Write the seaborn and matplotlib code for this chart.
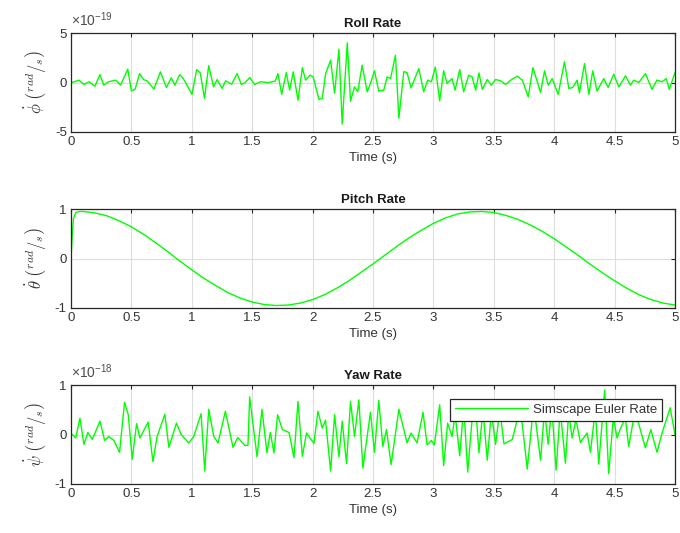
import matplotlib
matplotlib.use("Agg")
import matplotlib.pyplot as plt
import seaborn as sns
import pandas as pd

# ---------------- data ----------------
roll_t = [0.0, 0.01, 0.066, 0.107, 0.15, 0.198, 0.24, 0.27, 0.31, 0.37, 0.41, 0.47, 0.50, 0.53,
          0.568, 0.60, 0.63, 0.686, 0.74, 0.79, 0.83, 0.86, 0.90, 0.93, 1.002, 1.04, 1.07, 1.105,
          1.14, 1.18, 1.21, 1.25, 1.28, 1.33, 1.375, 1.41, 1.44, 1.48, 1.52, 1.57, 1.63, 1.69,
          1.713, 1.744, 1.782, 1.81, 1.84, 1.879, 1.915, 1.942, 1.978, 2.005, 2.052, 2.08, 2.108,
          2.149, 2.182, 2.218, 2.245, 2.287, 2.314, 2.347, 2.374, 2.41, 2.452, 2.479, 2.512, 2.548,
          2.589, 2.617, 2.645, 2.686, 2.714, 2.755, 2.782, 2.815, 2.879, 2.92, 2.953, 2.983, 3.016,
          3.052, 3.085, 3.113, 3.154, 3.18, 3.218, 3.251, 3.292, 3.32, 3.35, 3.377, 3.405, 3.446,
          3.479, 3.515, 3.556, 3.598, 3.64, 3.694, 3.736, 3.785, 3.824, 3.887, 3.92, 3.95, 3.983,
          4.033, 4.085, 4.121, 4.154, 4.19, 4.209, 4.251, 4.287, 4.319, 4.355, 4.41, 4.446, 4.493,
          4.535, 4.59, 4.631, 4.658, 4.70, 4.755, 4.81, 4.85, 4.893, 4.928, 4.953, 5.0]
roll_v = [0, 0, 0.24, -0.2, 0.07, -0.37, 0.8, -0.27, 0.07, 0.24, -0.27, 1.35, -0.85, -0.7,
          0.9, 0.3, 0.17, -0.67, 1.08, -0.5, 0.47, -0.27, 0.8, 0.4, -1.2, 1.3, 0.97, -1.6,
          1.7, -0.44, 0.3, -0.6, 0.17, -0.17, 0.9, -0.2, -0.03, 0.5, -0.2, 0.07, 0, 0.13,
          0.9, -1.2, 1.0, -0.77, 1.08, -1.8, 1.5, 0.24, 0.74, 0.57, -1.7, -1.6, 0.9,
          2.25, -1.1, 3.37, -4.2, 4.0, -1.9, -0.44, -0.94, 1.75, -0.94, -0.1, 1.18, -0.87,
          -0.77, 0.57, 0.4, 2.76, -3.6, 1.1, 1.0, -0.54, 1.4, -0.94, 0.24, 0.07, 1.55,
          -1.85, 1.18, -0.1, 0.4, -0.77, 1.3, -0.94, 0.74, 0.57, -0.77, 0.97, -0.7, 0.3,
          -0.27, 0.3, 0.17, -0.2, 0.24, 0.64, 0.24, -1.45, 1.5, -1.0, 1.18, -0.27, 0.4,
          -1.2, 2.09, -0.6, -0.5, 0.24, -1.04, 1.92, -1.2, 1.18, -0.87, 0.4, -0.5, 0.84,
          -0.44, 0.67, -0.27, 0.24, 0, 0.9, -0.7, 0.24, 0.07, 0.4, -0.7, 1.0]
roll_scale = 1e-19

pitch_t = [0.0, 0.01, 0.02, 0.04, 0.07, 0.1, 0.2, 0.3, 0.4, 0.5, 0.6, 0.7, 0.8, 0.9, 1.0,
           1.1, 1.2, 1.3, 1.4, 1.5, 1.6, 1.7, 1.8, 1.9, 2.0, 2.1, 2.2, 2.3, 2.4, 2.5, 2.6,
           2.7, 2.8, 2.9, 3.0, 3.1, 3.2, 3.3, 3.4, 3.5, 3.6, 3.7, 3.8, 3.9, 4.0, 4.1, 4.2,
           4.3, 4.4, 4.5, 4.6, 4.7, 4.8, 4.9, 5.0]
pitch_v = [0.0, 0.45, 0.8, 0.93, 0.95, 0.95, 0.92, 0.86, 0.76, 0.64, 0.49, 0.32, 0.14, -0.05, -0.23,
           -0.40, -0.55, -0.69, -0.80, -0.88, -0.93, -0.95, -0.94, -0.90, -0.83, -0.73, -0.60, -0.45, -0.28, -0.11, 0.07,
           0.25, 0.42, 0.57, 0.71, 0.82, 0.90, 0.94, 0.95, 0.93, 0.87, 0.79, 0.68, 0.55, 0.40, 0.23, 0.06,
           -0.12, -0.29, -0.45, -0.60, -0.73, -0.83, -0.90, -0.94]

yaw_t = [0.0, 0.011, 0.039, 0.074, 0.107, 0.14, 0.176, 0.24, 0.278, 0.314, 0.355, 0.402, 0.443, 0.474,
         0.507, 0.543, 0.57, 0.639, 0.678, 0.713, 0.777, 0.81, 0.873, 0.912, 0.975, 1.016, 1.077, 1.107,
         1.14, 1.182, 1.217, 1.278, 1.341, 1.38, 1.438, 1.465, 1.479, 1.54, 1.581, 1.622, 1.65, 1.68,
         1.71, 1.75, 1.805, 1.846, 1.879, 1.915, 1.95, 2.011, 2.044, 2.08, 2.107, 2.149, 2.182, 2.218,
         2.245, 2.281, 2.314, 2.347, 2.383, 2.416, 2.479, 2.512, 2.548, 2.581, 2.612, 2.65, 2.714, 2.782,
         2.815, 2.865, 2.914, 2.948, 2.983, 3.008, 3.052, 3.085, 3.118, 3.154, 3.18, 3.218, 3.251, 3.284,
         3.32, 3.35, 3.377, 3.41, 3.446, 3.48, 3.515, 3.55, 3.584, 3.653, 3.72, 3.777, 3.83, 3.887,
         3.92, 3.95, 3.98, 4.016, 4.05, 4.093, 4.12, 4.148, 4.18, 4.217, 4.273, 4.30, 4.34, 4.369,
         4.418, 4.451, 4.49, 4.52, 4.55, 4.589, 4.617, 4.658, 4.69, 4.755, 4.80, 4.851, 4.893, 4.96, 5.0]
yaw_v = [0, 0, -0.07, 0.33, -0.2, 0.04, -0.1, 0.27, -0.12, -0.04, -0.12, -0.36, 0.65, 0.4,
         -0.5, 0.22, -0.07, 0.25, -0.55, -0.04, 0.41, -0.26, 0.23, 0, -0.17, -0.04, 0.42, -0.74,
         0.51, -0.04, -0.17, 0.47, -0.26, -0.06, -0.22, -0.22, 0.76, -0.45, 0.51, -0.37, 0.04, -0.37,
         0.4, 0.1, 0.04, -0.47, 0.67, -0.44, 0.03, -0.18, 0.47, 0.13, 0.29, -0.74, 0.4, -0.45,
         0.27, -0.59, 0.67, -0.04, 0.7, -0.68, 0.45, -0.36, 0.69, -0.24, 0.1, -0.61, 0.51, -0.17,
         0.03, -0.17, 0.45, -0.21, -0.12, -0.21, 0.6, -0.63, 0.23, -0.04, 0.4, -0.43, 0.57, -0.76,
         0.3, 0.55, -0.37, 0.5, -0.52, 0.45, -0.2, 0.5, -0.19, -0.1, 0.55, -0.7, 0.6, -0.52,
         0.5, -0.2, 0.55, -0.72, 0.5, -0.58, 0.45, -0.07, 0.3, -0.16, 0.03, -0.36, 0.5, -0.6,
         0.9, -0.79, 0.35, -0.07, 0.13, 0.33, -0.24, 0.33, 0.3, -0.27, 0.1, -0.36, 0.03, 0.54, 0]
yaw_scale = 1e-18

titles = ["Roll Rate", "Pitch Rate", "Yaw Rate"]
ylabels = [r"$\dot{\phi}\ \left(^{rad}/_{s}\right)$",
           r"$\dot{\theta}\ \left(^{rad}/_{s}\right)$",
           r"$\dot{\psi}\ \left(^{rad}/_{s}\right)$"]
xticks = [0, 0.5, 1, 1.5, 2, 2.5, 3, 3.5, 4, 4.5, 5]
xticklabels = ["0", "0.5", "1", "1.5", "2", "2.5", "3", "3.5", "4", "4.5", "5"]
yticklabels = [["-5", "0", "5"], ["-1", "0", "1"], ["-1", "0", "1"]]
offset_labels = [r"$\mathregular{\times10^{-19}}$", None, r"$\mathregular{\times10^{-18}}$"]
legend_label = "Simscape Euler Rate"

# ---------------- figure ----------------
sns.set_style("white")
plt.rcParams["font.family"] = ["Liberation Sans", "DejaVu Sans"]
plt.rcParams["mathtext.fontset"] = "cm"
plt.rcParams["axes.unicode_minus"] = False

W, H = 680, 533
fig = plt.figure(figsize=(W / 100, H / 100), dpi=100)

def frac(l, t, r, b):
    return [l / W, 1 - b / H, (r - l) / W, (b - t) / H]

boxes = [frac(71, 33, 675, 132), frac(71, 209, 675, 308), frac(71, 385, 675, 484)]
green = (0.0, 1.0, 0.0)
axcol = (0.15, 0.15, 0.15)
txtcol = (0.2, 0.2, 0.2)

datasets = [
    pd.DataFrame({"t": roll_t, "v": [v * roll_scale for v in roll_v]}),
    pd.DataFrame({"t": pitch_t, "v": pitch_v}),
    pd.DataFrame({"t": yaw_t, "v": [v * yaw_scale for v in yaw_v]}),
]
ylims = [(-5e-19, 5e-19), (-1, 1), (-1e-18, 1e-18)]
yticks = [[-5e-19, 0, 5e-19], [-1, 0, 1], [-1e-18, 0, 1e-18]]

for i in range(3):
    ax = fig.add_axes(boxes[i])
    sns.lineplot(data=datasets[i], x="t", y="v", ax=ax, color=green, linewidth=1.0,
                 estimator=None, sort=False,
                 label=legend_label if i == 2 else None, legend=False)
    ax.set_xlim(0, 5)
    ax.set_ylim(*ylims[i])
    ax.set_xticks(xticks)
    ax.set_xticklabels(xticklabels)
    ax.set_yticks(yticks[i])
    ax.set_yticklabels(yticklabels[i])
    if offset_labels[i]:
        ax.annotate(offset_labels[i], xy=(0, 1), xycoords="axes fraction",
                    xytext=(0, 3), textcoords="offset points", ha="left", va="bottom",
                    fontsize=10, color=(0.3, 0.3, 0.3))
    ax.grid(True, color=(0.87, 0.87, 0.87), linewidth=0.8)
    ax.set_axisbelow(True)
    for s in ax.spines.values():
        s.set_color(axcol)
        s.set_linewidth(0.9)
    ax.tick_params(direction="in", top=True, right=True, length=3, width=0.8,
                   color=axcol, labelsize=9.5, labelcolor=txtcol, pad=3)
    ax.set_title(titles[i], fontsize=9.5, fontweight="bold", color=(0.1, 0.1, 0.1), pad=4)
    ax.set_xlabel("Time (s)", fontsize=9.5, color=txtcol, labelpad=3)
    ax.set_ylabel(ylabels[i], fontsize=12, color=txtcol, labelpad=4)
    if i == 2:
        leg = ax.legend(loc="upper right", fontsize=9.5, frameon=True, fancybox=False,
                        handlelength=5.5, borderpad=0.4, handletextpad=0.4,
                        bbox_to_anchor=(0.99, 0.93))
        leg.get_frame().set_edgecolor(axcol)
        leg.get_frame().set_linewidth(0.9)
        leg.get_frame().set_alpha(1.0)
        for t in leg.get_texts():
            t.set_color(txtcol)

fig.savefig("out.png", dpi=100, facecolor="white")
